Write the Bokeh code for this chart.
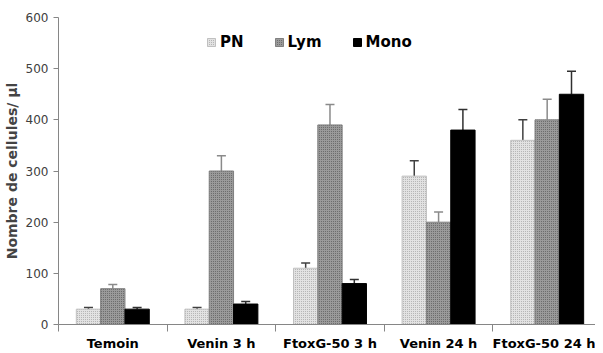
from bokeh.plotting import figure
from bokeh.models import ColumnDataSource, Range1d, FixedTicker, Whisker, TeeHead, Legend, LegendItem
from bokeh.embed import file_html
from bokeh.resources import INLINE

categories = ["Temoin", "Venin 3 h", "FtoxG-50 3 h", "Venin 24 h", "FtoxG-50 24 h"]
series = ["PN", "Lym", "Mono"]
pn = [30, 30, 110, 290, 360]
pn_err = [3, 3, 10, 30, 40]
lym = [70, 300, 390, 200, 400]
lym_err = [8, 30, 40, 20, 40]
mono = [30, 40, 80, 380, 450]
mono_err = [3, 5, 8, 40, 45]
y_ticks = [0, 100, 200, 300, 400, 500, 600]

p = figure(width=595, height=353, output_backend="svg", toolbar_location=None,
           x_range=Range1d(0, 4.945), y_range=Range1d(0, 600),
           min_border_left=51, min_border_top=17, min_border_bottom=10, min_border_right=0)
p.outline_line_color = None
p.xgrid.visible = False
p.ygrid.visible = False
p.background_fill_color = "white"

bw = 0.224
offsets = [-bw, 0, bw]
vals = [pn, lym, mono]
errs = [pn_err, lym_err, mono_err]
fills = ["#e2e2e2", "#9a9a9a", "#000000"]
hatch_colors = ["#a8a8a8", "#5e5e5e", "#000000"]
hatches = ["dot", "dot", " "]
lines = ["#c0c0c0", "#808080", "#000000"]
err_colors = ["#404040", "#8a8a8a", "#303030"]

renderers = []
for k in range(3):
    xs = [i + 0.5 + offsets[k] for i in range(len(categories))]
    src = ColumnDataSource(dict(x=xs, top=vals[k], up=[v + e for v, e in zip(vals[k], errs[k])]))
    r = p.vbar(x="x", top="top", width=bw, bottom=0, source=src,
               fill_color=fills[k], line_color=lines[k], line_width=1,
               hatch_pattern=hatches[k], hatch_color=hatch_colors[k], hatch_scale=2, hatch_weight=1)
    renderers.append(r)
    w = Whisker(base="x", lower="top", upper="up", source=src, line_color=err_colors[k], line_width=1.5,
                upper_head=TeeHead(size=9, line_color=err_colors[k], line_width=1.5), lower_head=None)
    p.add_layout(w)

legend = Legend(items=[LegendItem(label=s, renderers=[renderers[k]]) for k, s in enumerate(series)],
                orientation="horizontal", location=(148, 273), glyph_width=10, glyph_height=10,
                label_standoff=4, spacing=30, padding=0, margin=0,
                label_text_font="DejaVu Sans", label_text_font_style="bold", label_text_font_size="15px",
                label_text_color="black", background_fill_alpha=0, border_line_color=None)
p.add_layout(legend)

p.yaxis.ticker = FixedTicker(ticks=y_ticks)
p.yaxis.axis_line_color = "#868686"
p.yaxis.major_tick_line_color = "#868686"
p.yaxis.major_tick_in = 0
p.yaxis.major_tick_out = 5
p.yaxis.minor_tick_line_color = None
p.yaxis.major_label_text_font = "DejaVu Sans"
p.yaxis.major_label_text_font_size = "12px"
p.yaxis.major_label_text_color = "#404040"
p.yaxis.axis_label = "Nombre de cellules/ µl"
p.yaxis.axis_label_text_font = "DejaVu Sans"
p.yaxis.axis_label_text_font_style = "bold"
p.yaxis.axis_label_text_font_size = "14px"
p.yaxis.axis_label_standoff = 3

centers = [i + 0.5 for i in range(len(categories))]
p.xaxis.ticker = FixedTicker(ticks=centers, minor_ticks=list(range(len(categories) + 1)))
p.xaxis.major_label_overrides = {c: lab for c, lab in zip(centers, categories)}
p.xaxis.axis_line_color = "#868686"
p.xaxis.major_tick_line_color = None
p.xaxis.minor_tick_line_color = "#868686"
p.xaxis.minor_tick_in = 0
p.xaxis.minor_tick_out = 7
p.xaxis.major_tick_out = 0
p.xaxis.major_tick_in = 0
p.xaxis.major_label_standoff = 4
p.xaxis.major_label_text_font = "DejaVu Sans"
p.xaxis.major_label_text_font_style = "bold"
p.xaxis.major_label_text_font_size = "13px"
p.xaxis.major_label_text_color = "black"

open("out.html", "w").write(file_html(p, INLINE))
